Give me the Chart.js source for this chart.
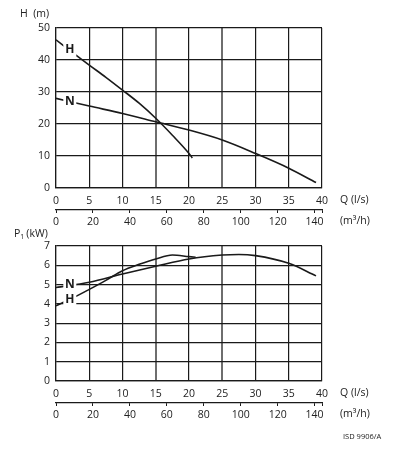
<!DOCTYPE html>
<html>
<head>
<meta charset="utf-8">
<script src="https://cdn.jsdelivr.net/npm/chart.js@4.4.1/dist/chart.umd.min.js"></script>
<style>
  body { margin: 0; background: #fff; width: 393px; height: 450px; position: relative; overflow: hidden; }
  canvas { position: absolute; left: 0; }
  #headChart { top: 0; }
  #powerChart { top: 225px; }
</style>
</head>
<body>
<canvas id="headChart" width="393" height="232"></canvas>
<canvas id="powerChart" width="393" height="225"></canvas>
<script>
// flow in l/s, head in m, power P1 in kW
const qHeadH = [0, 2.5, 5, 7.5, 10, 12.5, 15, 17.5, 20, 20.5];
const headH = [46.3, 42.3, 38.4, 34.6, 30.6, 26.5, 21.8, 16.5, 10.8, 9.4];
const qHeadN = [0, 5, 10, 15, 20, 25, 30, 35, 39.1];
const headN = [28, 25.6, 23.3, 20.7, 18.1, 15, 10.8, 6.2, 1.7];

const qPowerH = [0, 2.5, 5, 7.5, 10, 12.5, 15, 17.5, 20, 21];
const powerH = [3.9, 4.3, 4.75, 5.22, 5.72, 6.05, 6.33, 6.53, 6.45, 6.42];
const qPowerN = [0, 5, 10, 15, 20, 25, 27.5, 30, 35, 39.1];
const powerN = [4.85, 5.12, 5.55, 5.95, 6.33, 6.53, 6.56, 6.5, 6.1, 5.45];

const flowTicks = [0, 5, 10, 15, 20, 25, 30, 35, 40];
const m3hTicks = [0, 20, 40, 60, 80, 100, 120, 140];

const FONT = "'Open Sans', 'DejaVu Sans', sans-serif";
const INK = '#1a1a1a';

function pts(xs, ys) {
  return xs.map((x, i) => ({ x: x, y: ys[i] }));
}

function curve(data, labelText, labelX, labelY) {
  return {
    data: data,
    borderColor: INK,
    borderWidth: 1.6,
    pointRadius: 0,
    cubicInterpolationMode: 'monotone',
    fill: false,
    tagText: labelText,
    tagX: labelX,
    tagY: labelY
  };
}

// draws "H" / "N" tags with a white gap in the curve, plus the loose titles
const textPlugin = {
  id: 'texts',
  afterDatasetsDraw(chart, args, opts) {
    const c = chart.ctx;
    const xs = chart.scales.x, ys = chart.scales.y;
    c.save();
    chart.data.datasets.forEach(ds => {
      const px = xs.getPixelForValue(ds.tagX);
      const py = ys.getPixelForValue(ds.tagY);
      c.fillStyle = '#fff';
      c.fillRect(px - 6, py - 7, 13, 14);
      c.fillStyle = INK;
      c.font = 'bold 12px ' + FONT;
      c.textAlign = 'center';
      c.textBaseline = 'middle';
      c.fillText(ds.tagText, px + 0.5, py + 0.5);
    });
    c.font = '10.5px ' + FONT;
    c.fillStyle = '#222';
    c.textBaseline = 'middle';
    c.textAlign = 'left';
    (opts.items || []).forEach(t => {
      if (t.sub) {
        c.fillText(t.text, t.x, t.y);
        const w = c.measureText(t.text).width;
        c.font = '7px ' + FONT;
        c.fillText(t.sub, t.x + w, t.y + 3);
        const w2 = c.measureText(t.sub).width;
        c.font = '10.5px ' + FONT;
        c.fillText(t.rest, t.x + w + w2 + 2, t.y);
      } else {
        if (t.font) c.font = t.font;
        c.fillText(t.text, t.x, t.y);
        c.font = '10.5px ' + FONT;
      }
    });
    c.restore();
  }
};

function gridColor(ctx) {
  const v = ctx.tick ? ctx.tick.value : null;
  return (v === 15 || v === 25) ? '#6e6e6e' : INK;
}
function gridWidth(ctx) {
  const v = ctx.tick ? ctx.tick.value : null;
  return (v === 15 || v === 25) ? 2 : 1.2;
}

function makeChart(canvasId, datasets, yMax, padTop, padBottom, items) {
  const tickFont = { family: FONT, size: 10.5 };
  return new Chart(document.getElementById(canvasId), {
    type: 'line',
    data: { datasets: datasets },
    plugins: [textPlugin],
    options: {
      responsive: false,
      animation: false,
      devicePixelRatio: 1,
      layout: { padding: { left: 0, right: 71, top: padTop, bottom: padBottom } },
      plugins: {
        legend: { display: false },
        tooltip: { enabled: false },
        texts: { items: items }
      },
      scales: {
        x: {
          type: 'linear',
          position: 'bottom',
          weight: 0,
          min: 0,
          max: 40,
          afterBuildTicks: s => { s.ticks = flowTicks.map(v => ({ value: v })); },
          afterFit: s => { s.height = 22; },
          grid: { color: gridColor, lineWidth: gridWidth, drawTicks: false },
          border: { display: true, color: INK, width: 1.2 },
          ticks: { color: '#222', font: tickFont, padding: 7, maxRotation: 0 }
        },
        x2: {
          type: 'linear',
          position: 'bottom',
          weight: 1,
          min: 0,
          max: 144,
          afterBuildTicks: s => { s.ticks = m3hTicks.concat([144]).map(v => ({ value: v })); },
          afterFit: s => { s.height = 22; },
          grid: { drawOnChartArea: false, color: INK, tickLength: 3, lineWidth: 1 },
          border: { display: true, color: INK, width: 1.2 },
          ticks: {
            color: '#222', font: tickFont, padding: 3, maxRotation: 0,
            callback: v => (v === 144 ? '' : v)
          }
        },
        y: {
          min: 0,
          max: yMax,
          ticks: { stepSize: yMax === 50 ? 10 : 1, color: '#222', font: tickFont, padding: 6 },
          afterFit: s => { s.width = 56; },
          grid: { color: INK, lineWidth: 1.2, drawTicks: false },
          border: { display: true, color: INK, width: 1.2 }
        }
      }
    }
  });
}

makeChart('headChart', [
  curve(pts(qHeadH, headH), 'H', 2.0, 43.3),
  curve(pts(qHeadN, headN), 'N', 2.0, 27.3)
], 50, 28, 0, [
  { text: 'H  (m)', x: 20, y: 14 },
  { text: 'Q (l/s)', x: 340, y: 200 },
  { text: '(m³/h)', x: 340, y: 221 }
]);

makeChart('powerChart', [
  curve(pts(qPowerH, powerH), 'H', 2.0, 4.25),
  curve(pts(qPowerN, powerN), 'N', 2.0, 5.0)
], 7, 21, 25, [
  { text: 'P', sub: '1', rest: '(kW)', x: 14, y: 9 },
  { text: 'Q (l/s)', x: 340, y: 168 },
  { text: '(m³/h)', x: 340, y: 189 },
  { text: 'ISD 9906/A', x: 343, y: 212, font: '7.5px ' + FONT }
]);
</script>
</body>
</html>
